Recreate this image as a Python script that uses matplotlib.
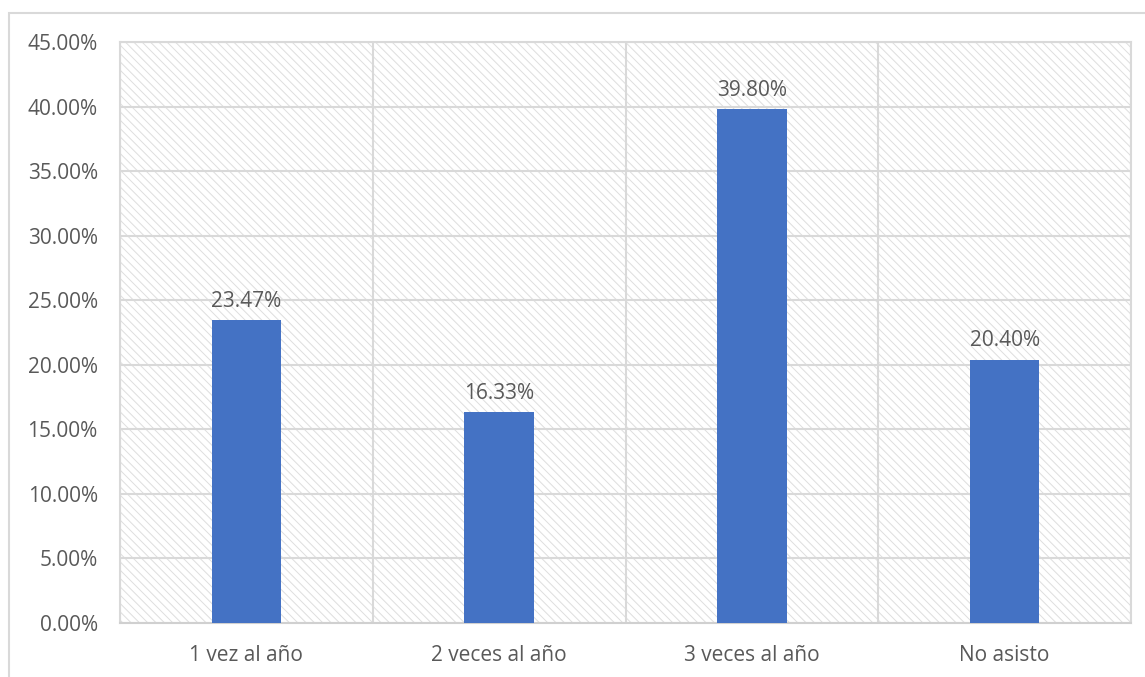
import matplotlib
matplotlib.use("Agg")
from matplotlib import pyplot as plt
from matplotlib.patches import Rectangle
from matplotlib.ticker import FuncFormatter

# Data
categories = ["1 vez al año", "2 veces al año", "3 veces al año", "No asisto"]
percentages = [23.47, 16.33, 39.80, 20.40]
y_ticks = [0, 5, 10, 15, 20, 25, 30, 35, 40, 45]

text_color = "#595959"
grid_color = "#d9d9d9"
bar_color = "#4472c4"
hatch_color = "#dedede"

plt.rcParams["font.family"] = ["Open Sans", "DejaVu Sans"]
plt.rcParams["hatch.linewidth"] = 0.7

fig = plt.figure(figsize=(11.45, 6.77), dpi=100)

# Outer chart frame (extends past right/bottom of the picture)
W, H = 1145, 677
fig.patches.append(Rectangle((9 / W, -0.1), 1.2, (H - 13) / H + 0.1,
                             transform=fig.transFigure, fill=False,
                             edgecolor="#d9d9d9", linewidth=1.5))

ax = fig.add_axes([120 / W, 1 - 623 / H, (1131 - 120) / W, (623 - 42) / H])

# Hatched plot area background
ax.add_patch(Rectangle((0, 0), 1, 1, transform=ax.transAxes,
                       facecolor="white", edgecolor=hatch_color,
                       linewidth=0, hatch="\\\\\\\\", zorder=0))

x = list(range(len(categories)))
ax.bar(x, percentages, width=0.275, color=bar_color, zorder=3)

for xi, val in zip(x, percentages):
    ax.annotate(f"{val:.2f}%", (xi, val), xytext=(0, 6),
                textcoords="offset points", ha="center", va="bottom",
                fontsize=15, color=text_color)

ax.set_xlim(-0.5, len(categories) - 0.5)
ax.set_ylim(0, 45)
ax.set_yticks(y_ticks)
ax.yaxis.set_major_formatter(FuncFormatter(lambda v, p: f"{v:.2f}%"))
ax.set_xticks(x)
ax.set_xticklabels(categories)

# Gridlines: horizontal at ticks, vertical between categories
ax.set_xticks([i + 0.5 for i in range(-1, len(categories))], minor=True)
ax.grid(axis="y", which="major", color=grid_color, linewidth=1.5, zorder=1)
ax.grid(axis="x", which="minor", color=grid_color, linewidth=1.5, zorder=1)
ax.set_axisbelow(True)

ax.tick_params(axis="both", which="both", length=0, labelsize=15,
               labelcolor=text_color)
ax.tick_params(axis="y", pad=16)
ax.tick_params(axis="x", pad=16)

for side in ["top", "right", "left"]:
    ax.spines[side].set_color(grid_color)
    ax.spines[side].set_linewidth(1.5)
ax.spines["bottom"].set_color("#d0d0d0")
ax.spines["bottom"].set_linewidth(1.5)

plt.savefig("out.png", dpi=100)
